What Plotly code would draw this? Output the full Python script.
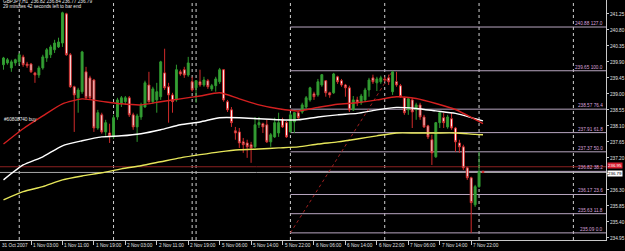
import plotly.graph_objects as go

# ---------------- data ----------------
opens = [239.82,239.87,239.73,239.87,239.90,240.04,239.84,239.84,239.59,239.53,
         239.73,240.01,240.10,240.24,240.32,240.43,241.25,240.10,239.20,238.89,
         239.06,239.62,239.45,239.39,238.04,238.41,237.93,237.90,237.79,238.35,
         238.72,238.78,238.89,238.41,238.07,238.35,238.63,239.25,238.78,238.83,
         238.92,239.59,239.20,238.97,238.83,239.62,239.68,239.53,239.34,239.17,
         239.34,239.25,239.37,239.14,239.23,239.34,239.68,238.78,238.55,237.96,
         237.93,237.65,237.62,237.57,237.51,238.13,238.16,238.13,237.65,237.79,
         237.90,238.27,238.19,237.93,238.21,238.47,238.49,238.63,238.83,239.00,
         238.97,239.25,239.37,239.03,239.03,239.48,239.37,239.25,239.17,238.55,
         238.83,238.75,238.83,239.11,239.45,239.31,239.34,239.42,239.45,239.06,
         239.34,239.23,238.89,238.55,238.83,238.55,238.69,238.35,238.10,237.71,
         237.23,238.19,238.33,238.07,238.30,238.04,237.62,237.51,236.92,236.64,
         235.88,236.39,236.82]
highs = [240.04,240.01,239.96,239.99,240.15,240.10,239.90,239.87,239.62,239.79,
         240.10,240.29,240.38,240.52,240.58,241.31,241.28,240.15,239.23,239.17,
         240.21,239.76,239.51,239.42,238.55,238.47,238.27,238.16,238.41,238.89,
         238.94,238.94,238.94,238.47,238.44,238.75,239.37,239.62,239.20,239.31,
         239.93,240.27,239.31,239.03,239.82,239.68,239.76,240.04,239.48,239.39,
         239.68,239.48,239.42,239.28,239.48,239.73,239.70,238.83,238.63,238.07,
         238.04,237.76,237.71,237.65,238.35,238.35,238.19,238.27,237.90,238.33,
         238.47,238.33,238.24,238.47,238.49,238.52,238.75,238.94,239.20,239.06,
         239.42,239.56,239.39,239.06,239.59,239.51,239.42,239.28,239.23,238.94,
         238.92,239.00,239.17,239.45,239.54,239.48,239.51,239.48,239.54,239.65,
         239.62,239.28,238.92,238.89,238.89,238.75,238.75,238.41,238.13,237.85,
         238.21,238.49,238.47,238.41,238.47,238.07,237.71,237.57,236.95,236.67,
         236.44,237.37,236.84]
lows = [239.68,239.82,239.62,239.79,239.82,239.76,239.73,239.59,239.31,239.45,
        239.68,239.90,240.01,240.15,240.29,240.32,240.07,239.17,237.93,238.47,
        239.00,238.83,238.83,237.93,237.99,237.88,237.82,237.62,237.73,238.27,
        238.63,238.69,238.35,237.99,237.65,238.27,238.61,238.75,238.72,238.47,
        238.83,239.11,238.19,238.47,238.78,239.51,239.45,239.48,239.06,238.75,
        239.20,239.20,239.14,239.08,239.06,239.28,238.78,238.49,238.07,237.71,
        237.48,237.34,237.20,237.06,237.48,238.04,237.90,237.62,237.51,237.76,
        237.79,238.04,237.76,237.90,237.90,238.27,238.44,238.58,238.78,238.83,
        238.92,239.20,238.92,238.89,239.00,239.28,239.20,238.92,238.49,238.52,
        238.66,238.69,238.78,238.92,239.28,239.08,239.28,239.34,239.25,238.97,
        239.20,238.89,238.41,238.41,238.04,238.27,238.27,238.04,237.73,237.00,
        237.20,238.04,238.04,238.02,237.99,237.37,237.34,236.86,236.58,235.09,
        235.82,236.36,236.77]
closes = [240.01,239.96,239.90,239.96,240.10,239.82,239.79,239.62,239.53,239.73,
          240.04,240.24,240.32,240.43,240.46,241.28,240.10,239.20,238.97,239.11,
          240.18,238.89,238.89,238.04,238.47,237.93,238.19,237.82,238.33,238.83,
          238.89,238.89,238.41,238.07,238.38,238.69,239.31,238.78,239.14,239.06,
          239.90,239.17,238.97,238.78,239.68,239.56,239.53,239.87,239.11,239.37,
          239.25,239.39,239.20,239.23,239.42,239.68,238.83,238.55,238.19,237.90,
          237.62,237.57,237.51,237.48,238.13,238.19,238.07,237.65,237.85,238.19,
          238.19,238.07,237.79,238.41,238.47,238.33,238.69,238.89,239.17,238.92,
          239.34,239.54,239.03,238.97,239.56,239.34,239.25,239.17,238.55,238.83,
          238.75,238.94,239.11,239.39,239.34,239.42,239.45,239.39,239.34,239.62,
          239.25,238.92,238.47,238.86,238.49,238.69,238.35,238.07,237.79,237.34,
          238.19,238.47,238.19,238.35,238.04,237.65,237.51,236.92,236.64,235.94,
          236.39,236.81,236.79]

ma_bars = [0,5,10,15,20,25,30,35,40,45,50,55,60,65,70,75,80,85,90,95,100,105,110,115,120,122]
ma_red = [237.59,238.02,238.38,238.72,238.86,238.79,238.72,238.69,238.78,238.86,
          238.94,239.03,238.86,238.69,238.58,238.52,238.62,238.71,238.75,238.83,
          238.92,238.87,238.73,238.56,238.28,238.16]
ma_white = [236.58,237.00,237.23,237.54,237.68,237.79,237.82,237.88,237.99,238.13,
            238.21,238.33,238.33,238.30,238.27,238.27,238.35,238.41,238.45,238.55,
            238.62,238.59,238.52,238.45,238.30,238.24]
ma_yellow = [236.02,236.25,236.39,236.58,236.69,236.78,236.89,236.98,237.09,237.20,
             237.29,237.37,237.43,237.45,237.48,237.51,237.59,237.65,237.73,237.82,
             237.90,237.90,237.90,237.90,237.86,237.85]

time_label_bars = [7,15,23,31,39,47,55,63,71,79,87,95,103,111,119]
time_labels = ["1 Nov 03:00","1 Nov 11:00","1 Nov 19:00","2 Nov 03:00","2 Nov 11:00",
               "2 Nov 19:00","5 Nov 06:00","5 Nov 14:00","5 Nov 22:00","6 Nov 06:00",
               "6 Nov 14:00","6 Nov 22:00","7 Nov 06:00","7 Nov 14:00","7 Nov 22:00"]
first_label = "31 Oct 2007"
separator_bars = [4,28,48,49,73,97,121,145]

price_ticks = [241.25,240.80,240.35,239.90,239.45,239.00,238.55,238.10,
               237.65,237.20,236.75,236.30,235.85,235.40,234.95]
hidden_tick = 236.75  # covered by the bid price box

fib_prices = [235.09,235.63,236.17,236.82,237.37,237.91,238.57,239.65,240.88]
fib_levels = ["0.0","11.8","23.6","38.2","50.0","61.8","76.4","100.0","127.0"]
fib_anchor_bars = [73, 99]
fib_anchor_prices = [235.09, 239.65]

bid_price = 236.79
ask_price = 236.95
title_line1 = "GBPJPY,H1  236.82 236.84 236.77 236.79"
title_line2 = "29 minutes 42 seconds left to bar end"
order_text = "#60808740 buy"
order_price = 238.28

# ---------------- style ----------------
FONT = "Liberation Sans, Arial, sans-serif"
FS = 4.7
X_MIN, X_MAX = -0.89, 153.3
Y_MIN, Y_MAX = 234.89, 241.64

bars = list(range(len(opens)))
fig = go.Figure()

fig.add_trace(go.Candlestick(
    x=bars, open=opens, high=highs, low=lows, close=closes,
    increasing=dict(line=dict(color="#2f9a2f", width=1), fillcolor="#3aa03a"),
    decreasing=dict(line=dict(color="#d02a2a", width=1), fillcolor="#ffffff"),
    whiskerwidth=0, showlegend=False, hoverinfo="skip"))

for ys, col in [(ma_yellow, "#e6e65a"), (ma_white, "#ffffff"), (ma_red, "#d42020")]:
    fig.add_trace(go.Scatter(x=ma_bars, y=ys, mode="lines",
                             line=dict(color=col, width=1.4, shape="spline", smoothing=0.6),
                             showlegend=False, hoverinfo="skip"))

shapes = []
for b in separator_bars:
    shapes.append(dict(type="line", xref="x", yref="paper", x0=b, x1=b, y0=0, y1=1,
                       line=dict(color="#d0d0d0", width=1, dash="dot"), layer="below"))
for p in fib_prices:
    shapes.append(dict(type="line", xref="x", yref="y", x0=fib_anchor_bars[0], x1=X_MAX,
                       y0=p, y1=p, line=dict(color="#b8a6c0", width=1), layer="below"))
shapes.append(dict(type="line", xref="x", yref="y",
                   x0=fib_anchor_bars[0], x1=fib_anchor_bars[1],
                   y0=fib_anchor_prices[0], y1=fib_anchor_prices[1],
                   line=dict(color="#a02020", width=1, dash="dot"), layer="below"))
shapes.append(dict(type="line", xref="paper", yref="y", x0=0, x1=1, y0=ask_price, y1=ask_price,
                   line=dict(color="#8c2020", width=1), layer="below"))
shapes.append(dict(type="line", xref="paper", yref="y", x0=0, x1=1, y0=bid_price, y1=bid_price,
                   line=dict(color="#a8a8a8", width=1), layer="below"))

ann = []
for b, t in zip(time_label_bars, time_labels):
    ann.append(dict(x=b, y=0, xref="x", yref="paper", text=t, showarrow=False,
                    xanchor="left", yanchor="top", xshift=0, yshift=-1,
                    font=dict(family=FONT, size=FS, color="#e0e0e0")))
ann.append(dict(x=0, y=0, xref="paper", yref="paper", text=first_label, showarrow=False,
                xanchor="left", yanchor="top", xshift=0, yshift=-1,
                font=dict(family=FONT, size=FS, color="#e0e0e0")))
for p, lv in zip(fib_prices, fib_levels):
    ann.append(dict(x=1, y=p, xref="paper", yref="y", text=f"{p:.2f} {lv}", showarrow=False,
                    xanchor="right", yanchor="bottom", xshift=-1, yshift=-1,
                    font=dict(family=FONT, size=FS, color="#d8a0dc")))
ann.append(dict(x=1, y=ask_price, xref="paper", yref="y", text=f"{ask_price:.2f}", showarrow=False,
                xanchor="left", yanchor="middle", xshift=1, yshift=0.8, bgcolor="#d81e30",
                borderpad=0, font=dict(family=FONT, size=4.4, color="#ffffff")))
ann.append(dict(x=1, y=bid_price, xref="paper", yref="y", text=f"{bid_price:.2f}", showarrow=False,
                xanchor="left", yanchor="middle", xshift=1, yshift=-0.8, bgcolor="#ffffff",
                borderpad=0, font=dict(family=FONT, size=4.4, color="#000000")))
ann.append(dict(x=0, y=1, xref="paper", yref="paper", text=title_line1, showarrow=False,
                xanchor="left", yanchor="middle", xshift=1, yshift=-1.5,
                font=dict(family=FONT, size=FS, color="#e8e8e8")))
ann.append(dict(x=0, y=1, xref="paper", yref="paper", text=title_line2, showarrow=False,
                xanchor="left", yanchor="middle", xshift=1, yshift=-6.8,
                font=dict(family=FONT, size=FS, color="#e8e8e8")))
ann.append(dict(x=0, y=order_price, xref="paper", yref="y", text=order_text, showarrow=False,
                xanchor="left", yanchor="middle", xshift=2,
                font=dict(family=FONT, size=FS, color="#e8e8e8")))

fig.update_layout(
    width=625, height=251, margin=dict(l=0, r=19, t=0, b=11),
    paper_bgcolor="#000000", plot_bgcolor="#000000",
    shapes=shapes, annotations=ann, showlegend=False,
    xaxis=dict(range=[X_MIN, X_MAX], showgrid=False, zeroline=False,
               rangeslider=dict(visible=False), tickmode="array",
               tickvals=time_label_bars, showticklabels=False,
               ticks="outside", ticklen=4, tickcolor="#c8c8c8", tickwidth=1,
               showline=True, linecolor="#c8c8c8", linewidth=1),
    yaxis=dict(range=[Y_MIN, Y_MAX], side="right", showgrid=False, zeroline=False,
               tickmode="array", tickvals=price_ticks,
               ticktext=["" if v == hidden_tick else f"{v:.2f}" for v in price_ticks],
               ticks="outside", ticklen=2, tickcolor="#c8c8c8",
               tickfont=dict(family=FONT, size=FS, color="#e0e0e0"),
               showline=True, linecolor="#c8c8c8", linewidth=1),
)

fig.write_html("out.html")
